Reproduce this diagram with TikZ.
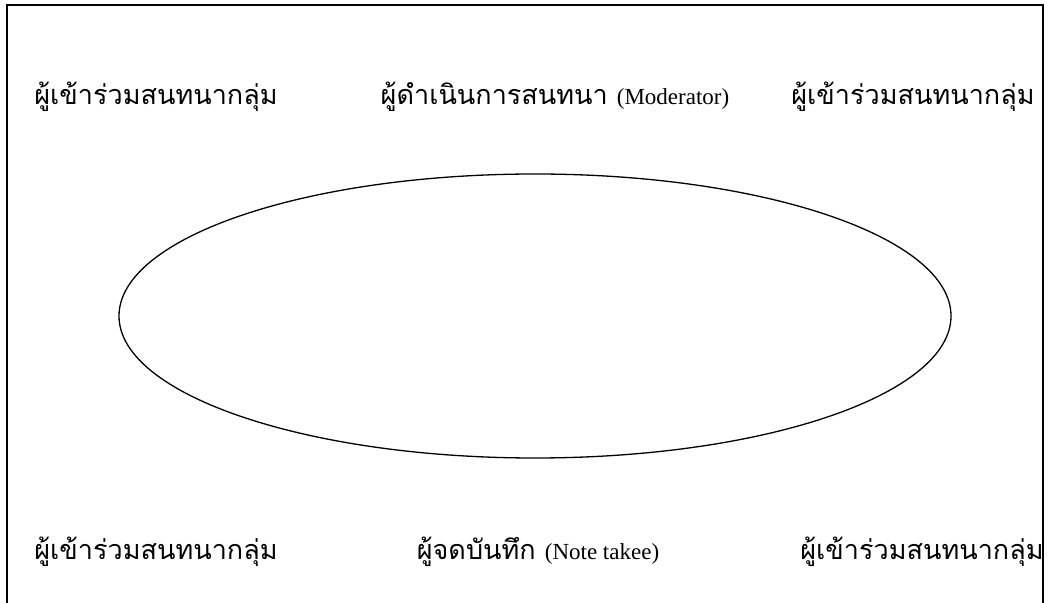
\documentclass[tikz,border=0pt]{standalone}
\usepackage{fontspec}
\setmainfont{Liberation Serif}
\newfontfamily\thaifont[Script=Thai]{Loma}
\usetikzlibrary{shapes.geometric}
\definecolor{ink}{HTML}{000000}
\newcommand{\engtxt}[1]{{\rmfamily\fontsize{23}{27}\selectfont #1}}

\begin{document}
\begin{tikzpicture}[x=1pt,y=1pt,
  role/.style={inner sep=0pt,font=\thaifont\fontsize{27}{31}\selectfont,text=ink},
  table/.style={ellipse,draw=ink,line width=1.3pt,minimum width=832pt,minimum height=284pt,inner sep=0pt}]
  \useasboundingbox (0,0) rectangle (1051,602);
  \draw[ink,line width=1.6pt] (7,-10) -- (7,597) -- (1043,597) -- (1043,-10);

  % ===== discussion table =====
  \node[table] (circle) at (535,286) {};

  % ===== seats =====
  \node[role] (pa) at (156,505) {ผู้เข้าร่วมสนทนากลุ่ม};
  \node[role] (mod) at (555,505) {ผู้ดำเนินการสนทนา \engtxt{(Moderator)}};
  \node[role] (pb) at (913,505) {ผู้เข้าร่วมสนทนากลุ่ม};
  \node[role] (pc) at (156,50) {ผู้เข้าร่วมสนทนากลุ่ม};
  \node[role] (note) at (538,50) {ผู้จดบันทึก \engtxt{(Note takee)}};
  \node[role] (pd) at (922,50) {ผู้เข้าร่วมสนทนากลุ่ม};
\end{tikzpicture}
\end{document}
